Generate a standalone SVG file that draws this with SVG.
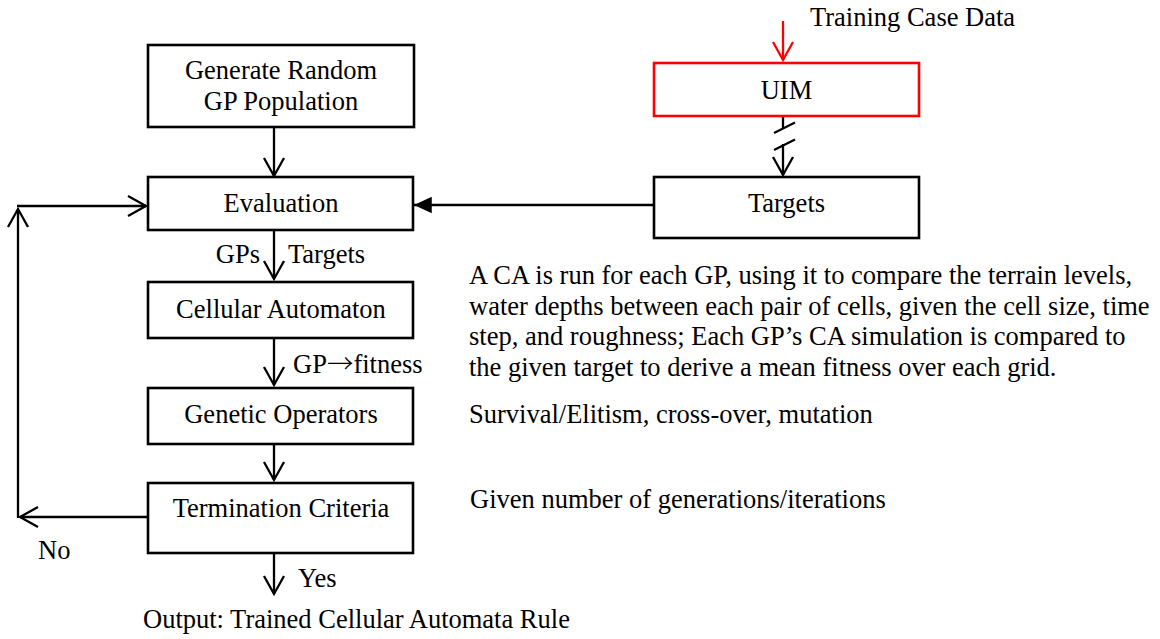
<svg xmlns="http://www.w3.org/2000/svg" width="1160" height="639" viewBox="0 0 1160 639">
<style>
text{font-family:"Liberation Serif","Times New Roman",serif;font-size:26.5px;fill:#000}
.box{fill:#fff;stroke:#000;stroke-width:2.6}
.red{fill:#fff;stroke:#ff0000;stroke-width:2.6}
.ln{fill:none;stroke:#000;stroke-width:2.3}
.c{text-anchor:middle}
.arw{font-family:"Noto Sans CJK SC","Liberation Serif",sans-serif;font-weight:300}
</style>
<defs>
<marker id="open" markerUnits="userSpaceOnUse" markerWidth="24" markerHeight="24" viewBox="-20 -12 24 24" refX="0" refY="0" orient="auto">
<path d="M-18,-10 L0,0 L-18,10" fill="none" stroke="#000" stroke-width="2.3"/>
</marker>
<marker id="openRed" markerUnits="userSpaceOnUse" markerWidth="24" markerHeight="24" viewBox="-20 -12 24 24" refX="0" refY="0" orient="auto">
<path d="M-18,-10 L0,0 L-18,10" fill="none" stroke="#ff0000" stroke-width="2.3"/>
</marker>
<marker id="fill" markerUnits="userSpaceOnUse" markerWidth="20" markerHeight="20" viewBox="-17 -9 18 18" refX="0" refY="0" orient="auto">
<path d="M-16,-7.5 L0,0 L-16,7.5 Z" fill="#000"/>
</marker>
</defs>

<g id="connectors">
<line class="ln" x1="274" y1="127" x2="274" y2="176" marker-end="url(#open)"/>
<line class="ln" x1="274" y1="230" x2="274" y2="279" marker-end="url(#open)"/>
<line class="ln" x1="274" y1="338" x2="274" y2="385" marker-end="url(#open)"/>
<line class="ln" x1="274" y1="444" x2="274" y2="480" marker-end="url(#open)"/>
<line class="ln" x1="274" y1="553" x2="274" y2="594" marker-end="url(#open)"/>
<line class="ln" x1="148" y1="517" x2="20" y2="517" marker-end="url(#open)"/>
<line class="ln" x1="18" y1="518" x2="18" y2="209" marker-end="url(#open)"/>
<line class="ln" x1="17" y1="206" x2="146" y2="206" marker-end="url(#open)"/>
<line class="ln" x1="654" y1="205" x2="414" y2="205" marker-end="url(#fill)"/>
<line x1="783" y1="21" x2="783" y2="60" stroke="#ff0000" stroke-width="2.3" marker-end="url(#openRed)"/>
<line class="ln" x1="783" y1="116" x2="783" y2="128"/>
<line class="ln" x1="774" y1="133" x2="795" y2="122.5"/>
<line class="ln" x1="774" y1="150" x2="795" y2="139.5"/>
<line class="ln" x1="783" y1="144" x2="783" y2="175" marker-end="url(#open)"/>
</g>

<g id="n-generate">
<rect class="box" x="148" y="45" width="266" height="82"/>
<text class="c" x="281" y="79">Generate Random</text>
<text class="c" x="281" y="110">GP Population</text>
</g>
<g id="n-evaluation">
<rect class="box" x="148" y="177" width="265" height="53"/>
<text class="c" x="281" y="212">Evaluation</text>
</g>
<g id="n-uim">
<rect class="red" x="654" y="63" width="265" height="53"/>
<text class="c" x="786.5" y="99">UIM</text>
</g>
<g id="n-targets">
<rect class="box" x="654" y="177" width="265" height="61"/>
<text class="c" x="786.5" y="212">Targets</text>
</g>
<g id="n-ca">
<rect class="box" x="148" y="282" width="265" height="56"/>
<text class="c" x="281" y="318">Cellular Automaton</text>
</g>
<g id="n-genetic">
<rect class="box" x="148" y="388" width="265" height="56"/>
<text class="c" x="281" y="423">Genetic Operators</text>
</g>
<g id="n-termination">
<rect class="box" x="148" y="483" width="265" height="70"/>
<text class="c" x="281" y="517">Termination Criteria</text>
</g>

<g id="labels">
<text x="810" y="26">Training Case Data</text>
<text x="260" y="263" text-anchor="end">GPs</text>
<text x="288" y="263">Targets</text>
<text x="293" y="373">GP<tspan class="arw">→</tspan>fitness</text>
<text x="38" y="559">No</text>
<text x="298" y="587">Yes</text>
<text x="143" y="628">Output: Trained Cellular Automata Rule</text>
<text x="469" y="284">A CA is run for each GP, using it to compare the terrain levels,</text>
<text x="469" y="314.5">water depths between each pair of cells, given the cell size, time</text>
<text x="469" y="345">step, and roughness; Each GP’s CA simulation is compared to</text>
<text x="469" y="375.5">the given target to derive a mean fitness over each grid.</text>
<text x="469" y="423">Survival/Elitism, cross-over, mutation</text>
<text x="470" y="508">Given number of generations/iterations</text>
</g>
</svg>
